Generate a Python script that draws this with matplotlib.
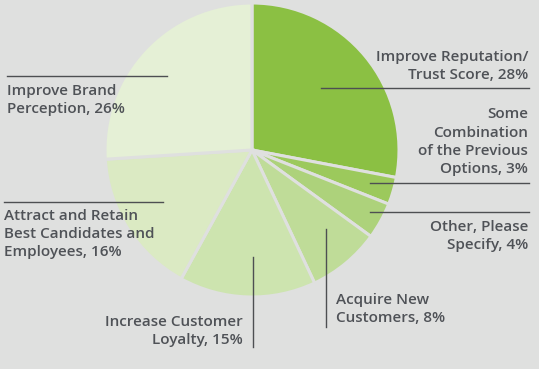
import matplotlib
matplotlib.use("Agg")
import matplotlib.pyplot as plt

labels = ["Improve Reputation/\nTrust Score, 28%",
          "Some\nCombination\nof the Previous\nOptions, 3%",
          "Other, Please\nSpecify, 4%",
          "Acquire New\nCustomers, 8%",
          "Increase Customer\nLoyalty, 15%",
          "Attract and Retain\nBest Candidates and\nEmployees, 16%",
          "Improve Brand\nPerception, 26%"]
values = [28, 3, 4, 8, 15, 16, 26]
colors = ["#8bc043", "#9cc95c", "#add27b", "#bfdc98", "#cde4af", "#dbeac3", "#e5f0d6"]

BG = "#dfe0df"
TXT = "#4f5257"
W, H = 539, 369
fig = plt.figure(figsize=(W / 100, H / 100), dpi=100, facecolor=BG)
ax = fig.add_axes([0, 0, 1, 1])
ax.set_facecolor(BG)

cx, cy, r = 252, H - 150, 147
ax.pie(values, colors=colors, startangle=90, counterclock=False, center=(cx, cy),
       radius=r, wedgeprops=dict(edgecolor=BG, linewidth=2.2), frame=True)
ax.set_xlim(0, W)
ax.set_ylim(0, H)
ax.set_aspect("equal")
ax.axis("off")

def Y(p):
    return H - p

fp = dict(family="Open Sans", fontsize=11, fontweight="semibold", color=TXT, linespacing=1.38)
lc = "#4d4f52"

# 28%
ax.plot([321, 529], [Y(88), Y(88)], color=lc, lw=1)
ax.text(528, Y(82), labels[0], ha="right", va="bottom", multialignment="right", **fp)
# 3%
ax.plot([370, 529], [Y(183), Y(183)], color=lc, lw=1)
ax.text(528, Y(176), labels[1], ha="right", va="bottom", multialignment="right", **fp)
# 4%
ax.plot([370, 529], [Y(212), Y(212)], color=lc, lw=1)
ax.text(528, Y(220), labels[2], ha="right", va="top", multialignment="right", **fp)
# 8%
ax.plot([326, 326], [Y(229), Y(327)], color=lc, lw=1)
ax.text(336, Y(325), labels[3], ha="left", va="bottom", multialignment="left", **fp)
# 15%
ax.plot([253, 253], [Y(257), Y(347)], color=lc, lw=1)
ax.text(243, Y(347), labels[4], ha="right", va="bottom", multialignment="right", **fp)
# 16%
ax.plot([4, 163], [Y(202), Y(202)], color=lc, lw=1)
ax.text(4, Y(209), labels[5], ha="left", va="top", multialignment="left", **fp)
# 26%
ax.plot([7, 167], [Y(76), Y(76)], color=lc, lw=1)
ax.text(7, Y(84), labels[6], ha="left", va="top", multialignment="left", **fp)

fig.savefig("out.png", dpi=100, facecolor=BG)
